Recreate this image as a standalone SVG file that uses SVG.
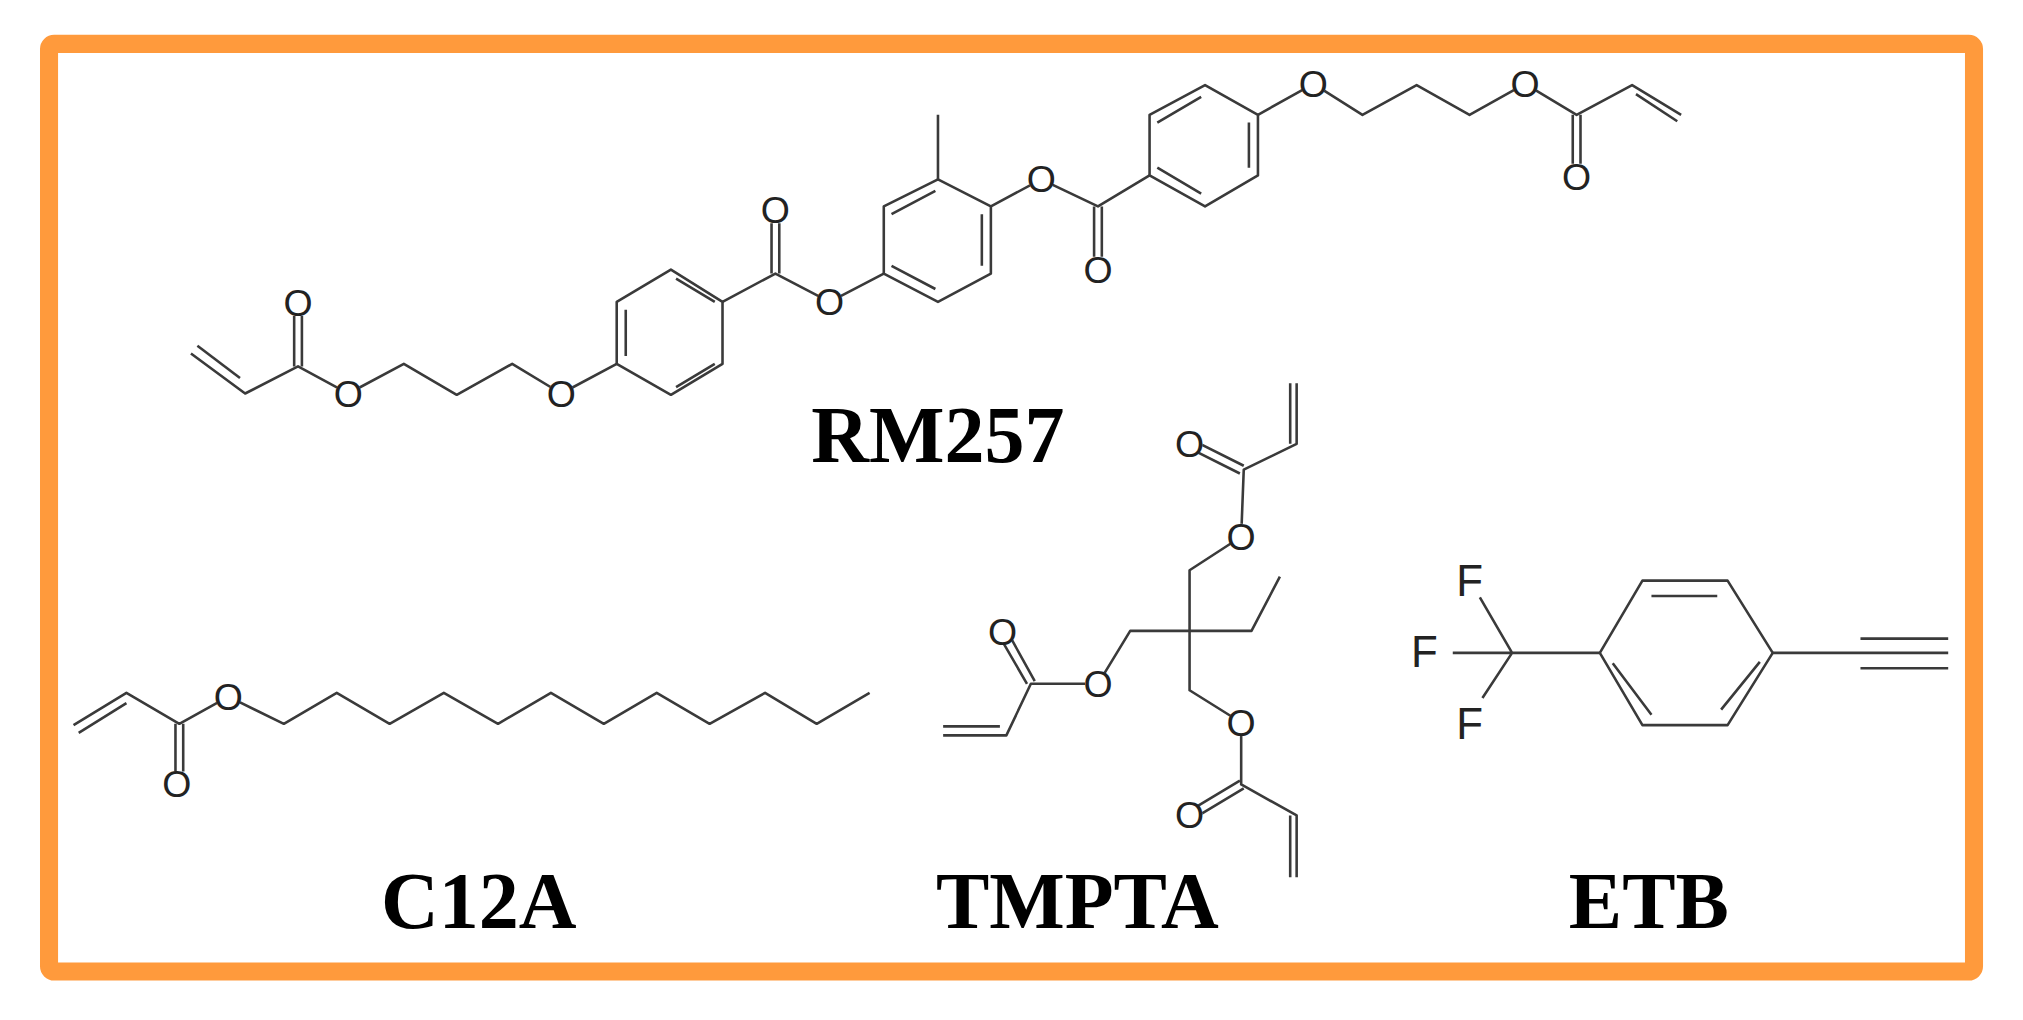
<svg xmlns="http://www.w3.org/2000/svg" width="2023" height="1020" viewBox="0 0 2023 1020">
<style>
.b{stroke:#3a3a3a;stroke-width:2;fill:none;stroke-linejoin:round}
.a{font-family:"Liberation Sans",Arial,sans-serif;font-size:29px;fill:#222;text-anchor:middle;dominant-baseline:central}
.f{font-size:34px}
.bg{fill:#fff}
.lbl{font-family:"Liberation Serif","Times New Roman",serif;font-weight:bold;font-size:62px;fill:#000;text-anchor:middle}
</style>
<rect width="2023" height="1020" fill="#fff"/>
<g transform="scale(1.2902)">
<rect id="frame" x="38" y="34" width="1492" height="719" rx="4" fill="none" stroke="#FF9A3C" stroke-width="14"/>
<g id="connectors">
<path class="b" d="M148,274L190,305L231,284L270,305L313,282L354,306L397,282L435,305L478,282"/>
<path class="b" d="M153,268L186,293"/>
<path class="b" d="M228,284V245M234,284V245"/>
<path class="b" d="M478,282V234L520,209L560,234V282L520,306Z"/>
<path class="b" d="M485,240V276M524,216L554,234M554,282L524,300"/>
<path class="b" d="M560,234L601,212L643,234L685,212"/>
<path class="b" d="M598,212V173M604,212V173"/>
<path class="b" d="M685,212V160L727,139L768,160V212L727,234Z"/>
<path class="b" d="M691,166L725,148M761,166V206M691,206L725,224"/>
<path class="b" d="M727,139V89M768,160L807,139L851,160L891,136"/>
<path class="b" d="M848,160V199M854,160V199"/>
<path class="b" d="M891,136V89L934,66L975,89V136L934,160Z"/>
<path class="b" d="M897,95L931,75M968,95V130M897,130L931,150"/>
<path class="b" d="M975,89L1018,65L1056,89L1098,66L1139,89L1182,65L1222,89L1265,66L1303,89"/>
<path class="b" d="M1268,73L1300,94"/>
<path class="b" d="M1219,89V127M1225,89V127"/>
<path class="b" d="M57,562L98,537L139,561L177,540L220,561L261,537L302,561L344,537L386,561L427,537L468,561L509,537L550,561L593,537L633,561L674,537"/>
<path class="b" d="M61,568L98,545"/>
<path class="b" d="M136,561V598M142,561V598"/>
<path class="b" d="M731,570H780L799,530L851,530L876,489H970L992,447"/>
<path class="b" d="M731,563H775"/>
<path class="b" d="M796,530L774,492M802,528L781,490"/>
<path class="b" d="M922,489V442L962,416L964,364L1005,344V297M1000,344V297"/>
<path class="b" d="M964,361L924,341M961,367L921,347"/>
<path class="b" d="M922,489V535L962,560V608L1005,632V680M1000,632V680"/>
<path class="b" d="M961,605L921,629M964,611L924,635"/>
<path class="b" d="M1147,463L1172,506L1149,541M1126,506H1240"/>
<path class="b" d="M1240,506L1273,450H1339L1374,506L1339,562H1273Z"/>
<path class="b" d="M1280,462H1331M1250,514L1280,554M1334,550L1364,513"/>
<path class="b" d="M1374,506H1510M1442,495H1510M1442,518H1510"/>
</g>
<g id="atoms">
<g id="rm257">
<circle class="bg" cx="231" cy="235" r="10"/><text class="a" x="231" y="235">O</text>
<circle class="bg" cx="270" cy="305" r="10"/><text class="a" x="270" y="305">O</text>
<circle class="bg" cx="435" cy="305" r="10"/><text class="a" x="435" y="305">O</text>
<circle class="bg" cx="601" cy="163" r="10"/><text class="a" x="601" y="163">O</text>
<circle class="bg" cx="643" cy="234" r="10"/><text class="a" x="643" y="234">O</text>
<circle class="bg" cx="807" cy="139" r="10"/><text class="a" x="807" y="139">O</text>
<circle class="bg" cx="851" cy="209" r="10"/><text class="a" x="851" y="209">O</text>
<circle class="bg" cx="1018" cy="65" r="10"/><text class="a" x="1018" y="65">O</text>
<circle class="bg" cx="1182" cy="65" r="10"/><text class="a" x="1182" y="65">O</text>
<circle class="bg" cx="1222" cy="137" r="10"/><text class="a" x="1222" y="137">O</text>
<text class="lbl" x="727" y="358">RM257</text>
</g>
<g id="c12a">
<circle class="bg" cx="137" cy="608" r="10"/><text class="a" x="137" y="608">O</text>
<circle class="bg" cx="177" cy="540" r="10"/><text class="a" x="177" y="540">O</text>
<text class="lbl" x="371" y="719">C12A</text>
</g>
<g id="tmpta">
<circle class="bg" cx="777" cy="490" r="10"/><text class="a" x="777" y="490">O</text>
<circle class="bg" cx="851" cy="530" r="10"/><text class="a" x="851" y="530">O</text>
<circle class="bg" cx="962" cy="416" r="10"/><text class="a" x="962" y="416">O</text>
<circle class="bg" cx="922" cy="344" r="10"/><text class="a" x="922" y="344">O</text>
<circle class="bg" cx="962" cy="560" r="10"/><text class="a" x="962" y="560">O</text>
<circle class="bg" cx="922" cy="632" r="10"/><text class="a" x="922" y="632">O</text>
<text class="lbl" x="835" y="719">TMPTA</text>
</g>
<g id="etb">
<circle class="bg" cx="1139" cy="450" r="11"/><text class="a f" x="1139" y="450">F</text>
<circle class="bg" cx="1104" cy="505" r="11"/><text class="a f" x="1104" y="505">F</text>
<circle class="bg" cx="1139" cy="561" r="11"/><text class="a f" x="1139" y="561">F</text>
<text class="lbl" x="1278" y="719">ETB</text>
</g>
</g>
</g>
</svg>
